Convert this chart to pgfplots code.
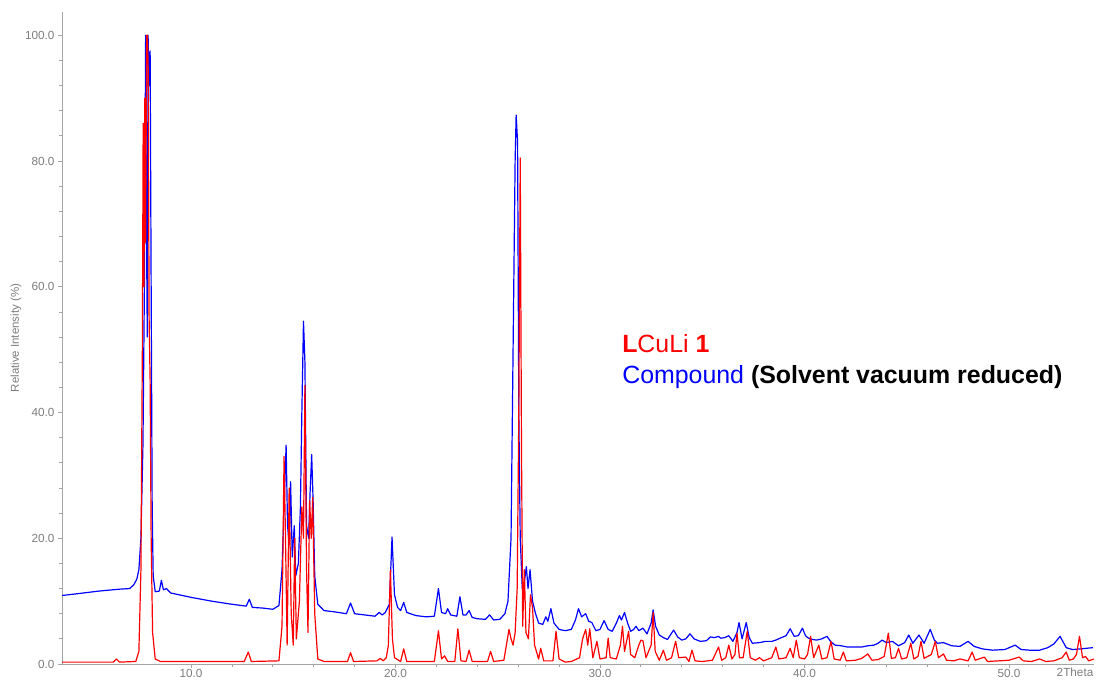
\documentclass[border=0pt]{standalone}
\usepackage{pgfplots}
\pgfplotsset{compat=1.18}
\usepackage{fontspec}
\setmainfont{Liberation Sans}
\definecolor{axgray}{RGB}{165,165,165}
\definecolor{labgray}{RGB}{125,125,125}
\begin{document}
\begin{tikzpicture}
\begin{axis}[name=ax,
  scale only axis, width=1032bp, height=652bp,
  xmin=3.69, xmax=54.16, ymin=0, ymax=103.7,
  axis x line=bottom, axis y line=left,
  axis line style={axgray,-, line width=0.8bp},
  xtick={10,20,30,40,50}, minor x tick num=4,
  ytick={0,20,40,60,80,100}, minor y tick num=4,
  tick align=outside, tick style={axgray, line width=0.8bp},
  major tick length=4bp, minor tick length=3bp,
  /pgf/number format/assume math mode=true,
  ticklabel style={font=\fontsize{11.8}{13}\selectfont, text=labgray},
  xticklabel style={yshift=2bp, /pgf/number format/.cd, fixed, fixed zerofill, precision=1},
  yticklabel style={/pgf/number format/.cd, fixed, fixed zerofill, precision=1},
  ylabel={Relative Intensity (\%)},
  ylabel style={font=\fontsize{11.5}{13}\selectfont, text=labgray, at={(axis description cs:-0.0446,0.5)}, anchor=center, rotate=0},
  xlabel={2Theta},
  xlabel style={font=\fontsize{11.8}{13}\selectfont, text=labgray, at={(axis description cs:0.9816,-0.0123)}, anchor=center},
  every axis plot/.append style={line width=1.2bp, line join=round, mark=none},
]
% Compound (blue)
\addplot[blue] coordinates {
(3.7,10.9)(4.5,11.2)(5.5,11.6)(6.5,11.9)(7.0,12.0)(7.2,12.6)(7.35,13.5)(7.45,15)(7.55,20)(7.65,35)(7.72,60)(7.78,100)(7.82,70)(7.86,52)(7.9,100)(7.95,92)(8.0,97.5)(8.05,60)(8.1,25)(8.15,14)(8.25,11.5)(8.45,11.6)(8.55,13.3)(8.65,11.8)(8.8,12.0)(9.0,11.3)(10,10.6)(11,10.0)(12,9.5)(12.7,9.2)(12.85,10.3)(13.0,9.0)(13.5,8.9)(14.0,8.7)(14.3,9.3)(14.45,15)(14.55,25)(14.65,34.8)(14.72,22)(14.8,19)(14.87,29)(14.95,17)(15.05,22)(15.12,14)(15.25,16)(15.35,25)(15.42,40)(15.5,54.5)(15.57,48)(15.65,22)(15.75,20)(15.82,27)(15.9,33.3)(15.97,26)(16.05,14)(16.2,9.5)(16.5,8.5)(17.0,8.3)(17.6,8.0)(17.8,9.7)(18.0,8.0)(18.5,7.8)(19.0,7.6)(19.2,8.2)(19.35,7.8)(19.5,8.2)(19.7,9.5)(19.83,20.2)(19.95,11)(20.1,9.0)(20.25,8.5)(20.4,9.8)(20.55,8.2)(21.0,7.7)(21.5,7.5)(21.9,7.6)(22.1,12.0)(22.25,8.2)(22.45,8.0)(22.55,8.8)(22.7,7.8)(23.0,7.6)(23.15,10.7)(23.3,7.8)(23.45,7.8)(23.6,8.5)(23.75,7.4)(24.0,7.2)(24.4,7.1)(24.6,7.8)(24.8,7.0)(25.1,7.1)(25.35,8.0)(25.5,10)(25.65,20)(25.75,50)(25.85,80)(25.9,87.3)(25.97,83)(26.03,40)(26.1,20)(26.2,12)(26.3,13)(26.4,15.5)(26.48,12)(26.58,15)(26.7,10)(26.85,8)(27.0,6.5)(27.2,6.3)(27.35,7.5)(27.45,6.8)(27.6,8.8)(27.75,6.5)(28.0,5.5)(28.3,5.3)(28.6,5.5)(28.8,7)(28.95,8.8)(29.1,7.5)(29.3,8.0)(29.45,6.8)(29.6,6.6)(29.8,5.3)(30.0,5.5)(30.2,6.9)(30.4,5.5)(30.6,5.2)(30.8,6.5)(30.95,7.7)(31.05,7.0)(31.2,8.2)(31.35,6.5)(31.5,5.2)(31.65,5.5)(31.76,6.0)(31.9,5.3)(32.1,5.7)(32.3,4.8)(32.5,6.5)(32.6,8.6)(32.72,6.0)(32.9,4.6)(33.1,4.2)(33.3,3.9)(33.6,5.4)(33.8,4.3)(34.0,3.8)(34.2,4.0)(34.4,4.8)(34.6,4.0)(34.9,3.6)(35.2,3.7)(35.4,4.3)(35.6,4.2)(35.8,4.4)(35.9,4.1)(36.1,4.2)(36.3,4.5)(36.5,3.6)(36.7,5.0)(36.8,6.6)(36.95,4.0)(37.15,6.6)(37.3,4.2)(37.45,3.3)(37.8,3.4)(38.1,3.6)(38.4,3.6)(38.6,3.8)(38.8,4.1)(39.1,4.5)(39.3,5.6)(39.5,4.4)(39.7,4.5)(39.9,5.7)(40.05,4.5)(40.2,4.1)(40.4,3.9)(40.6,3.8)(40.85,4.0)(41.1,4.4)(41.3,3.5)(41.5,3.0)(41.8,2.9)(42.1,2.7)(42.5,2.7)(42.8,2.7)(43.1,2.9)(43.4,3.0)(43.6,3.3)(43.8,3.8)(44.0,3.4)(44.3,3.6)(44.6,2.9)(44.9,3.4)(45.1,4.6)(45.3,3.3)(45.6,4.6)(45.85,3.3)(46.15,5.5)(46.35,3.8)(46.5,3.3)(46.8,3.4)(47.2,2.9)(47.6,2.8)(48.0,3.6)(48.3,2.8)(48.7,2.4)(49.2,2.2)(49.8,2.3)(50.3,3.0)(50.6,2.3)(51.0,2.2)(51.5,2.2)(51.9,2.6)(52.2,3.2)(52.5,4.4)(52.65,3.5)(52.8,2.6)(53.1,2.3)(53.5,2.4)(53.8,2.5)(54.1,2.6)
};
% LCuLi 1 (red)
\addplot[red] coordinates {
(3.7,0.3)(6.2,0.3)(6.35,0.8)(6.5,0.3)(7.3,0.4)(7.45,2)(7.55,15)(7.62,50)(7.66,86)(7.7,60)(7.74,90)(7.78,67)(7.83,100)(7.87,100)(7.91,94)(7.95,55)(8.0,45)(8.05,20)(8.12,5)(8.25,0.8)(8.5,0.4)(12.6,0.4)(12.8,1.9)(12.95,0.4)(14.3,0.5)(14.45,6)(14.55,33)(14.62,20)(14.7,3)(14.8,28)(14.9,8)(15.0,3)(15.07,20)(15.15,4)(15.3,10)(15.42,25)(15.5,20)(15.57,44.3)(15.65,15)(15.72,5)(15.8,26)(15.88,20)(15.95,26.5)(16.05,8)(16.2,0.8)(16.5,0.4)(17.65,0.4)(17.8,1.8)(17.95,0.4)(19.1,0.5)(19.25,0.9)(19.4,0.5)(19.55,1.0)(19.65,3)(19.75,15)(19.85,4)(19.95,1)(20.25,0.4)(20.4,2.4)(20.55,0.4)(21.9,0.4)(22.1,5.3)(22.25,0.8)(22.4,1.3)(22.55,0.4)(22.9,0.4)(23.05,5.6)(23.2,0.5)(23.45,0.4)(23.6,2.2)(23.75,0.4)(24.5,0.4)(24.65,2.0)(24.8,0.4)(25.3,0.6)(25.55,5.5)(25.65,4)(25.75,3)(25.85,5)(25.95,12)(26.03,40)(26.1,80.5)(26.16,35)(26.22,6)(26.3,15)(26.38,5)(26.5,4)(26.6,11)(26.7,9)(26.8,3)(27.0,0.8)(27.1,2.5)(27.25,0.5)(27.7,0.5)(27.85,5.2)(28.0,0.8)(28.3,0.3)(28.6,0.4)(29.0,1.0)(29.15,4)(29.3,5.5)(29.4,3)(29.5,5.6)(29.65,1.0)(29.85,3.6)(30.0,0.8)(30.3,1)(30.4,4.1)(30.5,1)(30.8,0.8)(31.0,3)(31.1,6.0)(31.2,2)(31.4,5.2)(31.5,1.5)(31.7,1)(31.9,3.0)(32.0,3.8)(32.1,3.7)(32.25,1.0)(32.5,3)(32.6,8.2)(32.7,2)(32.9,0.6)(33.1,2.2)(33.25,0.6)(33.5,1)(33.7,3.6)(33.85,1)(34.2,1.1)(34.35,0.4)(34.5,2.2)(34.65,0.5)(35.0,0.4)(35.5,0.6)(35.8,2.7)(35.95,0.6)(36.15,1.0)(36.3,3.0)(36.45,0.8)(36.6,1.5)(36.7,4.9)(36.82,1.0)(37.0,1.0)(37.2,5.2)(37.35,1.0)(37.6,0.6)(37.8,1.0)(38.0,0.5)(38.4,1.0)(38.6,2.7)(38.75,0.8)(39.1,1.0)(39.3,2.5)(39.45,1.0)(39.6,3.8)(39.75,1.0)(40.0,0.8)(40.15,1.5)(40.3,4.4)(40.45,1.0)(40.7,3.0)(40.85,0.8)(41.1,1)(41.3,3.6)(41.45,0.8)(41.75,0.6)(41.9,1.9)(42.05,0.5)(42.5,0.6)(42.8,0.9)(43.1,1.6)(43.3,0.6)(43.6,0.7)(43.9,1.2)(44.1,4.9)(44.25,0.9)(44.45,1.0)(44.6,2.5)(44.75,0.8)(45.0,1.0)(45.2,3.3)(45.35,0.8)(45.55,1.2)(45.7,3.6)(45.85,0.9)(46.2,1.5)(46.4,3.6)(46.55,1.0)(46.8,1.6)(46.95,0.6)(47.3,0.5)(47.6,0.8)(48.0,0.5)(48.2,1.9)(48.35,0.6)(48.8,1.1)(48.95,0.4)(49.5,0.5)(50.0,0.6)(50.5,1.1)(50.7,0.5)(51.1,0.4)(51.5,0.8)(51.8,0.4)(52.2,0.5)(52.6,1.0)(52.8,1.9)(52.95,0.6)(53.15,0.8)(53.3,1.5)(53.45,4.4)(53.6,1.0)(53.75,1.2)(53.9,0.5)(54.15,0.8)
};
\node[anchor=base west, font=\fontsize{25}{30}\selectfont, text=red, inner sep=0pt] at (axis cs:31.08,49.6) {\textbf{L}CuLi \textbf{1}};
\node[anchor=base west, font=\fontsize{25}{30}\selectfont, inner sep=0pt] at (axis cs:31.08,44.55) {\textcolor{blue}{Compound} \textbf{(Solvent vacuum reduced)}};
\end{axis}
\pgfresetboundingbox
\path[use as bounding box] ([shift={(-62bp,-17bp)}]ax.south west) rectangle ([shift={(1034bp,664bp)}]ax.south west);
\end{tikzpicture}
\end{document}
